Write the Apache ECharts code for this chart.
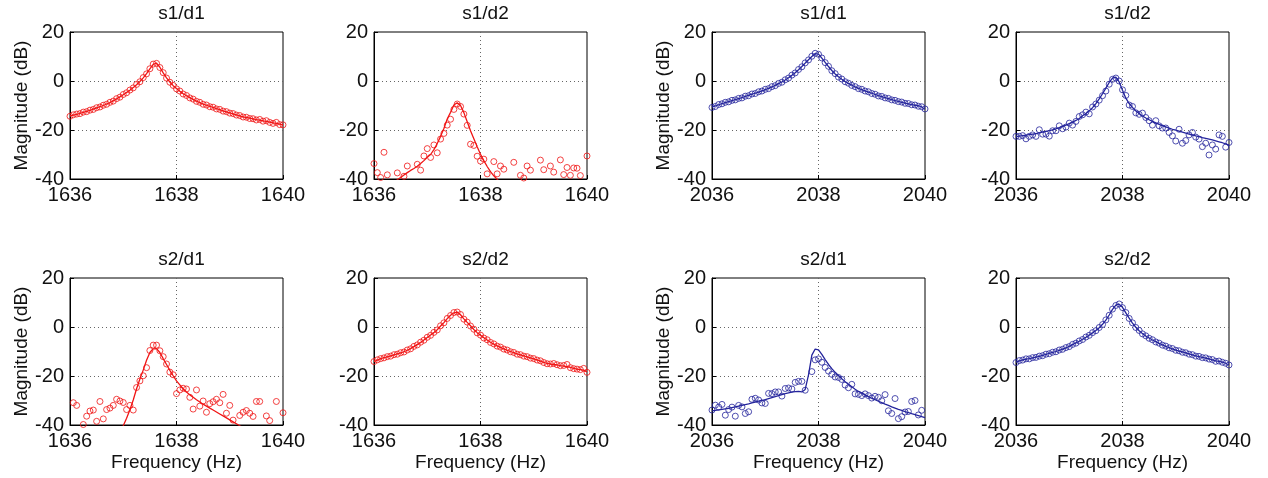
<!DOCTYPE html>
<html>
<head>
<meta charset="utf-8">
<script src="https://cdn.jsdelivr.net/npm/echarts@6/dist/echarts.min.js"></script>
<style>
  html, body { margin: 0; padding: 0; background: #fff; }
  #chart { width: 1268px; height: 478px; }
</style>
</head>
<body>
<div id="chart"></div>
<script>
// sample frequencies (Hz), 1/16 Hz spacing
const freqLow = [1636, 1636.0625, 1636.125, 1636.1875, 1636.25, 1636.3125, 1636.375, 1636.4375, 1636.5, 1636.5625, 1636.625, 1636.6875, 1636.75, 1636.8125, 1636.875, 1636.9375,
  1637, 1637.0625, 1637.125, 1637.1875, 1637.25, 1637.3125, 1637.375, 1637.4375, 1637.5, 1637.5625, 1637.625, 1637.6875, 1637.75, 1637.8125, 1637.875, 1637.9375,
  1638, 1638.0625, 1638.125, 1638.1875, 1638.25, 1638.3125, 1638.375, 1638.4375, 1638.5, 1638.5625, 1638.625, 1638.6875, 1638.75, 1638.8125, 1638.875, 1638.9375,
  1639, 1639.0625, 1639.125, 1639.1875, 1639.25, 1639.3125, 1639.375, 1639.4375, 1639.5, 1639.5625, 1639.625, 1639.6875, 1639.75, 1639.8125, 1639.875, 1639.9375, 1640]
const freqHigh = [2036, 2036.0625, 2036.125, 2036.1875, 2036.25, 2036.3125, 2036.375, 2036.4375, 2036.5, 2036.5625, 2036.625, 2036.6875, 2036.75, 2036.8125, 2036.875, 2036.9375,
  2037, 2037.0625, 2037.125, 2037.1875, 2037.25, 2037.3125, 2037.375, 2037.4375, 2037.5, 2037.5625, 2037.625, 2037.6875, 2037.75, 2037.8125, 2037.875, 2037.9375,
  2038, 2038.0625, 2038.125, 2038.1875, 2038.25, 2038.3125, 2038.375, 2038.4375, 2038.5, 2038.5625, 2038.625, 2038.6875, 2038.75, 2038.8125, 2038.875, 2038.9375,
  2039, 2039.0625, 2039.125, 2039.1875, 2039.25, 2039.3125, 2039.375, 2039.4375, 2039.5, 2039.5625, 2039.625, 2039.6875, 2039.75, 2039.8125, 2039.875, 2039.9375, 2040]

const lowTicks = [1636, 1638, 1640]
const highTicks = [2036, 2038, 2040]
const magTicks = [-40, -20, 0, 20]

// measured magnitude (dB), null = outside the plotted range
const s1d1LowPts = [-14.4, -13.8, -13.5, -13.3, -12.7, -12.5, -11.9, -11.6, -10.9, -10.6, -9.9, -9.5, -8.7, -8.2, -7.2, -6.6, -5.5, -4.8, -3.7, -2.8,
  -1.4, -0.3, 1.4, 2.9, 5.0, 6.9, 7.2, 5.5, 3.4, 1.2, -0.5, -1.8, -3.2, -4.1, -5.3, -5.9, -6.9, -7.4, -8.3, -8.7,
  -9.5, -9.8, -10.5, -10.7, -11.4, -11.6, -12.3, -12.5, -13.1, -13.3, -13.9, -14.1, -14.7, -14.8, -15.3, -15.4, -15.9, -15.7, -16.4, -16.2,
  -16.9, -17.3, -16.9, -17.8, -17.9]
const s1d1LowFit = [-14.2, -13.9, -13.6, -13.2, -12.8, -12.4, -12.0, -11.5, -11.0, -10.5, -10.0, -9.4, -8.8, -8.1, -7.3, -6.5, -5.6, -4.7, -3.8, -2.7,
  -1.5, -0.2, 1.3, 3.0, 4.9, 6.8, 7.3, 5.6, 3.3, 1.3, -0.4, -1.9, -3.1, -4.2, -5.2, -6.0, -6.8, -7.5, -8.2, -8.8,
  -9.4, -9.9, -10.4, -10.8, -11.3, -11.7, -12.2, -12.6, -13.0, -13.4, -13.8, -14.2, -14.6, -14.9, -15.2, -15.5, -15.8, -16.0, -16.3, -16.5,
  -16.8, -17.1, -17.3, -17.6, -18.0]

const s1d2LowPts = [-33.7, -37.4, -39.4, -29.1, -38.3, null, null, -37.5, null, -38.9, -34.7, null, null, -34.0, -36.4, -30.6, -27.6, -31.2, -26.1, -29.3,
  -23.7, -21.4, -18.0, -15.6, -11.6, -9.4, -10.4, -13.5, -18.1, -25.8, -26.3, -30.7, -32.7, -31.9, -37.9, null, -32.9, -37.9, -34.7, -36.0,
  null, null, -33.2, null, -38.5, -39.6, -34.7, -36.4, null, null, -32.3, -36.2, null, -34.7, -37.2, null, -32.2, -38.2, -35.3, -38.5,
  -35.5, -35.6, -38.6, null, -30.6]
const s1d2LowFit = [null, null, null, null, null, null, -41.5, -40.3, -39.4, -38.4, -37.4, -36.5, -35.7, -34.8, -33.7, -32.5, -31.1, -30.0, -28.0, -25.5,
  -22.6, -19.4, -15.5, -12.8, -9.8, -8.9, -10.0, -12.9, -16.6, -20.3, -23.6, -26.8, -29.9, -32.5, -34.9, -37.0, -38.7, -40.1, -41.4, null,
  null, null, null, null, null, null, null, null, null, null, null, null, null, null, null, null, null, null, null, null,
  null, null, null, null, null]

const s1d1HighPts = [-10.8, -10.4, -9.6, -9.3, -8.7, -8.5, -7.9, -7.7, -7.1, -6.9, -6.2, -6.0, -5.3, -5.1, -4.4, -4.1, -3.4, -3.1, -2.3, -1.9,
  -1.0, -0.5, 0.5, 1.2, 2.4, 3.3, 4.7, 5.8, 7.4, 8.6, 10.1, 11.3, 10.9, 9.4, 7.5, 6.0, 4.2, 3.0, 1.6, 0.8,
  -0.3, -0.9, -1.8, -2.3, -3.1, -3.4, -4.1, -4.4, -5.1, -5.4, -6.1, -6.3, -6.9, -7.1, -7.7, -7.9, -8.4, -8.6, -9.1, -9.2,
  -9.7, -9.8, -10.3, -10.5, -11.4]
const s1d1HighFit = [-10.6, -10.2, -9.7, -9.2, -8.8, -8.4, -8.0, -7.6, -7.2, -6.8, -6.3, -5.9, -5.4, -5.0, -4.5, -4.0, -3.5, -3.0, -2.4, -1.8,
  -1.1, -0.4, 0.4, 1.3, 2.3, 3.4, 4.6, 5.9, 7.3, 8.7, 10.0, 11.2, 11.0, 9.3, 7.6, 5.9, 4.3, 2.9, 1.7, 0.7,
  -0.2, -1.0, -1.7, -2.4, -3.0, -3.5, -4.0, -4.5, -5.0, -5.5, -6.0, -6.4, -6.8, -7.2, -7.6, -8.0, -8.3, -8.7, -9.0, -9.3,
  -9.6, -9.9, -10.1, -10.6, -11.5]

const s1d2HighPts = [-22.6, -22.6, -22.3, -23.6, -22.6, -22.0, -22.6, -19.9, -21.7, -21.7, -22.5, -20.3, -20.3, -18.3, -19.5, -18.8, -17.2, -18.0, -16.5, -14.5,
  -13.8, -12.7, -13.4, -10.6, -9.4, -7.8, -6.0, -4.1, -1.3, 0.7, 1.2, 0.0, -3.6, -5.9, -9.8, -10.4, -13.0, -13.6, -13.1, -14.9,
  -16.2, -18.0, -16.2, -18.3, -19.2, -19.2, -21.0, -22.4, -24.5, -19.7, -25.4, -24.3, -22.0, -21.0, -22.9, -23.7, -26.8, -25.4, -30.2, -26.1,
  -27.8, -22.0, -22.6, -27.0, -25.1]
const s1d2HighFit = [-22.7, -22.5, -22.3, -22.1, -21.9, -21.7, -21.5, -21.2, -20.9, -20.6, -20.3, -19.9, -19.5, -19.0, -18.5, -18.0, -17.4, -16.8, -16.1, -15.3,
  -14.2, -13.3, -12.2, -10.9, -9.2, -7.3, -5.2, -2.9, -0.6, 1.2, 1.6, -0.4, -3.8, -7.0, -9.2, -10.8, -12.2, -13.3, -14.3, -15.1,
  -15.8, -16.5, -17.1, -17.7, -18.2, -18.7, -19.2, -19.7, -20.1, -20.5, -20.9, -21.3, -21.7, -22.0, -22.4, -22.7, -23.1, -23.4, -23.7, -24.0,
  -24.4, -24.8, -25.2, -25.7, -26.2]

const s2d1LowPts = [null, -30.9, -32.0, null, -39.8, -36.4, -34.3, -33.9, -38.5, -30.4, -37.5, -33.7, -33.1, -32.0, -29.5, -30.2, -30.8, -33.7, -32.0, -33.9,
  -24.7, -22.0, -19.9, -16.6, -9.6, -7.4, -7.4, -9.7, -12.1, -15.1, -18.4, -19.5, -27.2, -25.7, -25.0, -25.3, -28.7, -33.5, -25.7, -32.3,
  -30.2, -34.8, -31.3, -30.5, -29.5, -30.9, -27.5, -35.2, -32.0, -38.0, null, -36.1, -34.8, -34.1, -35.2, -36.5, -30.4, -30.4, null, -36.3,
  -38.2, null, -30.4, null, -35.0]
const s2d1LowFit = [null, null, null, null, null, null, null, null, null, null, null, null, null, null, null, -43.5, -40.3, -37.2, -33.8, -29.8,
  -25.2, -21.2, -17.6, -13.6, -10.4, -8.9, -8.8, -10.4, -12.9, -15.3, -17.7, -19.9, -22.0, -23.6, -25.2, -26.5, -27.7, -28.7, -29.7, -30.6,
  -31.5, -32.3, -33.1, -33.9, -34.7, -35.5, -36.3, -37.1, -37.9, -38.7, -39.5, -40.3, -41.1, null, null, null, null, null, null, null,
  null, null, null, null, null]

const s2d2LowPts = [-14.1, -13.4, -12.9, -12.6, -12.1, -11.9, -11.3, -11.1, -10.5, -10.2, -9.4, -8.9, -7.9, -7.3, -6.2, -5.4, -4.2, -3.4, -2.2, -1.2,
  0.5, 1.7, 3.5, 4.7, 5.9, 6.1, 5.1, 3.2, 2.0, 0.4, -0.9, -2.4, -3.3, -4.5, -5.2, -6.3, -6.9, -7.8, -8.2, -9.0,
  -9.4, -10.1, -10.4, -11.1, -11.3, -11.9, -12.1, -12.7, -12.9, -13.5, -13.8, -14.5, -15.0, -15.1, -14.9, -15.4, -15.8, -15.7, -15.3, -16.6,
  -17.0, -17.2, -17.4, -16.9, -18.5]
const s2d2LowFit = [-14.1, -13.5, -12.9, -12.5, -12.2, -11.8, -11.4, -11.0, -10.6, -10.1, -9.5, -8.8, -8.0, -7.2, -6.3, -5.3, -4.3, -3.3, -2.3, -1.1,
  0.4, 1.8, 3.4, 4.8, 5.8, 6.1, 5.0, 3.3, 1.9, 0.5, -1.0, -2.3, -3.4, -4.4, -5.3, -6.2, -7.0, -7.7, -8.3, -8.9,
  -9.5, -10.0, -10.5, -11.0, -11.4, -11.8, -12.2, -12.6, -13.0, -13.4, -13.9, -14.4, -14.8, -15.1, -15.3, -15.5, -15.8, -16.0, -16.2, -16.5,
  -16.9, -17.2, -17.4, -17.6, -18.3]

const s2d1HighPts = [-33.9, -31.9, -32.7, -31.6, -36.0, -33.7, -32.7, -36.4, -32.0, -32.6, -35.3, -34.6, -29.5, -29.1, -29.8, -31.0, -31.2, -27.1, -27.2, -26.5,
  -26.5, -28.2, -25.1, -24.9, -25.3, -22.6, -22.2, -22.2, -25.8, null, -18.2, -13.4, -13.0, -14.4, -16.5, -18.0, -19.3, -20.4, -20.6, -21.4,
  -23.7, -24.8, -23.4, -27.3, -27.5, -28.0, -27.3, -28.0, -29.0, -28.3, -28.7, -30.1, -27.6, -34.2, -35.3, -29.2, -37.4, -36.6, -34.7, -34.5,
  -30.4, -30.0, -35.9, -34.0, null]
const s2d1HighFit = [-34.2, -34.0, -33.8, -33.6, -33.4, -33.2, -32.9, -32.6, -32.3, -32.0, -31.7, -31.4, -31.0, -30.7, -30.3, -30.0, -29.6, -29.2, -28.8, -28.4,
  -28.0, -27.6, -27.2, -26.9, -26.6, -26.4, -26.3, -26.5, -25.5, -19.5, -11.5, -9.0, -9.3, -11.2, -13.3, -15.3, -17.0, -18.5, -19.8, -21.1,
  -22.3, -23.4, -24.4, -25.4, -26.3, -27.0, -27.7, -28.4, -29.1, -29.7, -30.3, -30.9, -31.5, -32.0, -32.6, -33.1, -33.6, -34.0, -34.5, -34.9,
  -35.4, -35.8, -36.2, -36.6, -37.0]

const s2d2HighPts = [-14.5, -13.7, -13.5, -13.0, -13.0, -12.5, -12.4, -11.9, -11.7, -11.1, -10.9, -10.3, -10.1, -9.4, -9.1, -8.4, -8.0, -7.1, -6.6, -5.7,
  -5.1, -4.1, -3.4, -2.3, -1.5, -0.2, 1.0, 2.9, 4.8, 7.3, 8.8, 9.4, 7.9, 5.9, 3.5, 1.7, -0.2, -1.4, -2.8, -3.6,
  -4.6, -5.2, -6.1, -6.6, -7.4, -7.8, -8.5, -8.8, -9.5, -9.7, -10.3, -10.5, -11.1, -11.3, -11.9, -12.0, -12.5, -12.6, -13.1, -13.3,
  -14.0, -13.9, -14.4, -14.8, -15.5]
const s2d2HighFit = [-14.4, -13.8, -13.4, -13.1, -12.9, -12.6, -12.3, -12.0, -11.6, -11.2, -10.8, -10.4, -10.0, -9.5, -9.0, -8.5, -7.9, -7.2, -6.5, -5.8,
  -5.0, -4.2, -3.3, -2.4, -1.4, -0.3, 1.1, 2.8, 4.9, 7.2, 8.9, 9.3, 8.0, 5.8, 3.6, 1.6, -0.1, -1.5, -2.7, -3.7,
  -4.5, -5.3, -6.0, -6.7, -7.3, -7.9, -8.4, -8.9, -9.4, -9.8, -10.2, -10.6, -11.0, -11.4, -11.8, -12.1, -12.4, -12.7, -13.0, -13.4,
  -13.8, -14.0, -14.3, -14.8, -15.5]

const RED = '#f01414'
const BLUE = '#24249c'
const FONT = 'Liberation Sans, Arial, Helvetica, sans-serif'

// row-major: top row then bottom row
const panels = [
  { title: 's1/d1', freq: freqLow, ticks: lowTicks, pts: s1d1LowPts, fit: s1d1LowFit, color: RED },
  { title: 's1/d2', freq: freqLow, ticks: lowTicks, pts: s1d2LowPts, fit: s1d2LowFit, color: RED },
  { title: 's1/d1', freq: freqHigh, ticks: highTicks, pts: s1d1HighPts, fit: s1d1HighFit, color: BLUE },
  { title: 's1/d2', freq: freqHigh, ticks: highTicks, pts: s1d2HighPts, fit: s1d2HighFit, color: BLUE },
  { title: 's2/d1', freq: freqLow, ticks: lowTicks, pts: s2d1LowPts, fit: s2d1LowFit, color: RED },
  { title: 's2/d2', freq: freqLow, ticks: lowTicks, pts: s2d2LowPts, fit: s2d2LowFit, color: RED },
  { title: 's2/d1', freq: freqHigh, ticks: highTicks, pts: s2d1HighPts, fit: s2d1HighFit, color: BLUE },
  { title: 's2/d2', freq: freqHigh, ticks: highTicks, pts: s2d2HighPts, fit: s2d2HighFit, color: BLUE }
]

const colLeft = [70, 374, 712, 1016]
const colWidth = 213
const rowTop = [32, 278]
const rowHeight = 147

const pairs = (xs, ys) => xs.map((x, i) => [x, ys[i]]).filter((p) => p[1] !== null)

const chart = echarts.init(document.getElementById('chart'), null, { renderer: 'canvas' })

const grid = []
const title = []
const xAxis = []
const yAxis = []
const series = []

panels.forEach((p, k) => {
  const row = Math.floor(k / 4)
  const col = k % 4
  const left = colLeft[col]
  const top = rowTop[row]

  grid.push({
    left, top, width: colWidth, height: rowHeight,
    show: true, borderColor: '#000', borderWidth: 1, backgroundColor: '#fff'
  })

  title.push({
    text: p.title,
    left: left + colWidth / 2,
    top: top - 33,
    textAlign: 'center',
    textStyle: { fontFamily: FONT, fontSize: 19, fontWeight: 'normal', color: '#111' }
  })

  const step = p.ticks[1] - p.ticks[0]
  xAxis.push({
    type: 'value',
    gridIndex: k,
    min: p.ticks[0],
    max: p.ticks[p.ticks.length - 1],
    interval: step,
    name: row === 1 ? 'Frequency (Hz)' : '',
    nameLocation: 'middle',
    nameGap: 28,
    nameTextStyle: { fontFamily: FONT, fontSize: 19, color: '#111' },
    axisLine: { show: true, onZero: false, lineStyle: { color: '#000', width: 1 } },
    axisTick: { show: true, inside: true, length: 4, lineStyle: { color: '#000' } },
    axisLabel: { fontFamily: FONT, fontSize: 20, color: '#111', margin: 6, formatter: (v) => String(v) },
    splitLine: {
      show: true, showMinLine: false, showMaxLine: false,
      lineStyle: { color: '#666', width: 1, type: [1, 3] }
    }
  })

  yAxis.push({
    type: 'value',
    gridIndex: k,
    min: magTicks[0],
    max: magTicks[magTicks.length - 1],
    interval: magTicks[1] - magTicks[0],
    name: col === 0 || col === 2 ? 'Magnitude (dB)' : '',
    nameLocation: 'middle',
    nameGap: 38,
    nameTextStyle: { fontFamily: FONT, fontSize: 19, color: '#111' },
    axisLine: { show: true, onZero: false, lineStyle: { color: '#000', width: 1 } },
    axisTick: { show: true, inside: true, length: 4, lineStyle: { color: '#000' } },
    axisLabel: { fontFamily: FONT, fontSize: 20, color: '#111', margin: 6 },
    splitLine: {
      show: true, showMinLine: false, showMaxLine: false,
      lineStyle: { color: '#666', width: 1, type: [1, 3] }
    }
  })

  series.push({
    type: 'line',
    xAxisIndex: k,
    yAxisIndex: k,
    data: pairs(p.freq, p.fit),
    showSymbol: false,
    clip: true,
    lineStyle: { color: p.color, width: 1.3 },
    z: 3
  })

  series.push({
    type: 'scatter',
    xAxisIndex: k,
    yAxisIndex: k,
    data: pairs(p.freq, p.pts),
    symbol: 'circle',
    symbolSize: 6,
    clip: true,
    itemStyle: { color: 'rgba(255,255,255,0)', borderColor: p.color, borderWidth: 1 },
    z: 4
  })
})

chart.setOption({
  animation: false,
  backgroundColor: '#fff',
  title,
  grid,
  xAxis,
  yAxis,
  series
})
</script>
</body>
</html>
